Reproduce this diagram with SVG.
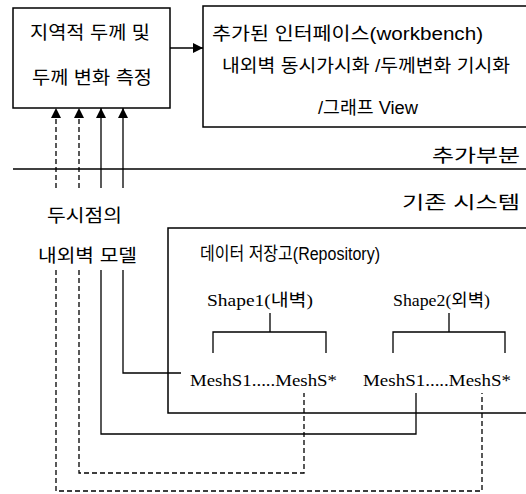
<svg xmlns="http://www.w3.org/2000/svg" width="526" height="494" viewBox="0 0 526 494">
<defs>
<marker id="ah" markerWidth="10" markerHeight="10" refX="10" refY="5" orient="auto" markerUnits="userSpaceOnUse">
<path d="M0,0 L10,5 L0,10 Z" fill="#000"/>
</marker>
<style>
.box{fill:#fff;stroke:#000;stroke-width:1.5}
.ln{fill:none;stroke:#000;stroke-width:1.3}
.ds{fill:none;stroke:#000;stroke-width:1.3;stroke-dasharray:5,3}
.k{font-family:"Liberation Sans","Noto Sans CJK KR",sans-serif;font-size:18px;fill:#000}
.s{font-family:"Liberation Serif","Noto Sans CJK KR",serif;font-size:17px;fill:#000}
</style>
</defs>
<rect width="526" height="494" fill="#fff"/>
<g id="measure">
<rect class="box" x="13" y="8" width="157" height="100"/>
<text class="k" x="30" y="39" textLength="120" lengthAdjust="spacingAndGlyphs">지역적 두께 및</text>
<text class="k" x="32" y="84" textLength="120" lengthAdjust="spacingAndGlyphs">두께 변화 측정</text>
</g>
<g id="interface">
<rect class="box" x="203" y="6" width="330" height="121"/>
<text class="k" x="212" y="40" textLength="271" lengthAdjust="spacingAndGlyphs">추가된 인터페이스(workbench)</text>
<text class="k" x="222" y="72" textLength="288" lengthAdjust="spacingAndGlyphs">내외벽 동시가시화 /두께변화 기시화</text>
<text class="k" x="318" y="114" textLength="100" lengthAdjust="spacingAndGlyphs">/그래프 View</text>
</g>
<g id="divider">
<line class="ln" x1="13" y1="169" x2="526" y2="169"/>
<text class="k" x="432" y="162" textLength="88" lengthAdjust="spacingAndGlyphs">추가부분</text>
<text class="k" x="402" y="209" textLength="118" lengthAdjust="spacingAndGlyphs">기존 시스템</text>
</g>
<g id="model">
<text class="k" x="47" y="222" textLength="75" lengthAdjust="spacingAndGlyphs">두시점의</text>
<text class="k" x="38" y="262" textLength="99" lengthAdjust="spacingAndGlyphs">내외벽 모델</text>
</g>
<g id="repository">
<rect class="box" x="168" y="228" width="365" height="185"/>
<text class="k" x="200" y="260" textLength="180" lengthAdjust="spacingAndGlyphs">데이터 저장고(Repository)</text>
<text class="s" x="207" y="306" textLength="106" lengthAdjust="spacingAndGlyphs">Shape1(내벽)</text>
<text class="s" x="393" y="306" textLength="97" lengthAdjust="spacingAndGlyphs">Shape2(외벽)</text>
<path class="ln" d="M270,313 V332 M213,353 V332 H326 V353"/>
<path class="ln" d="M449,313 V332 M393,353 V332 H505 V353"/>
<text class="s" x="190" y="386" textLength="147" lengthAdjust="spacingAndGlyphs">MeshS1.....MeshS*</text>
<text class="s" x="363" y="386" textLength="148" lengthAdjust="spacingAndGlyphs">MeshS1.....MeshS*</text>
</g>
<g id="connectors">
<line class="ln" x1="170" y1="48" x2="203" y2="48" marker-end="url(#ah)"/>
<line class="ds" x1="56" y1="188" x2="56" y2="108" marker-end="url(#ah)"/>
<line class="ds" x1="79" y1="188" x2="79" y2="108" marker-end="url(#ah)"/>
<line class="ln" x1="101" y1="188" x2="101" y2="108" marker-end="url(#ah)"/>
<line class="ln" x1="123" y1="188" x2="123" y2="108" marker-end="url(#ah)"/>
<path class="ln" d="M123,270 V373 H181"/>
<path class="ln" d="M101,270 V434 H416 V393"/>
<path class="ds" d="M79,270 V473 H304 V393"/>
<path class="ds" d="M56,270 V491 H482 V393"/>
</g>
</svg>
